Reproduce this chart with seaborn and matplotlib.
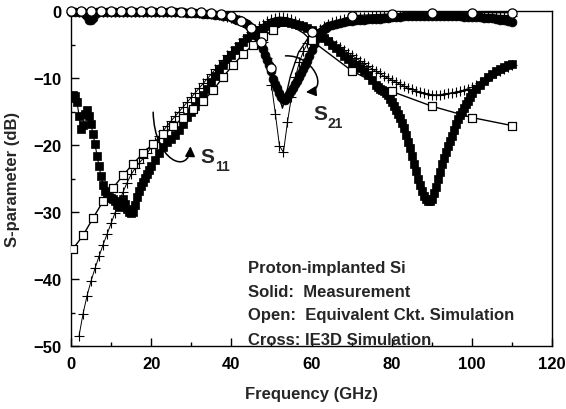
import matplotlib
matplotlib.use("Agg")
import matplotlib.pyplot as plt
from matplotlib.ticker import MultipleLocator
from matplotlib.patches import FancyArrowPatch
from matplotlib.path import Path
import seaborn as sns
import pandas as pd

# ---------------- data ----------------
# Measured S11 (solid squares)
S11_MEAS_F = [
    0, 0.5, 1, 1.5, 2, 2.5, 3, 3.5, 4, 4.5,
    5, 5.5, 6, 6.5, 7, 7.5, 8, 8.5, 9, 9.5,
    10, 10.5, 11, 11.5, 12, 12.5, 13, 13.5, 14, 14.5,
    15, 15.5, 16, 16.5, 17, 17.5, 18, 18.5, 19, 19.5,
    20, 21, 22, 23, 24, 25, 26, 27, 28, 29,
    30, 31, 32, 33, 34, 35, 36, 37, 38, 39,
    40, 41, 42, 43, 44, 45, 46, 47, 48, 49,
    50, 51, 52, 53, 54, 55, 56, 57, 58, 59,
    60, 61, 62, 63, 64, 65, 66, 67, 68, 69,
    70, 71, 72, 73, 74, 75, 76, 76.5, 77, 77.5,
    78, 78.5, 79, 79.5, 80, 80.5, 81, 81.5, 82, 82.5,
    83, 83.5, 84, 84.5, 85, 85.5, 86, 86.5, 87, 87.5,
    88, 88.5, 89, 89.5, 90, 90.5, 91, 91.5, 92, 92.5,
    93, 93.5, 94, 94.5, 95, 95.5, 96, 96.5, 97, 97.5,
    98, 98.5, 99, 99.5, 100, 101, 102, 103, 104, 105,
    106, 107, 108, 109, 110]
S11_MEAS_DB = [
    -13.0, -12.6, -12.7, -13.6, -15.6, -17.6, -17.0, -15.4, -14.8, -15.6,
    -16.9, -18.4, -19.9, -21.6, -23.2, -24.7, -25.9, -26.8, -27.3, -27.7,
    -27.9, -28.1, -28.4, -28.9, -29.3, -28.9, -28.0, -28.8, -29.6, -30.0,
    -30.2, -30.0, -29.0, -27.7, -26.8, -26.1, -25.5, -24.9, -24.3, -23.7,
    -23.1, -22.3, -21.2, -20.3, -19.6, -19.1, -18.5, -17.7, -16.8, -15.8,
    -15.0, -14.2, -13.4, -12.6, -11.6, -10.6, -9.7, -8.8, -8.0, -7.2,
    -6.5, -5.8, -5.2, -4.6, -4.1, -3.6, -3.2, -2.8, -2.5, -2.2,
    -2.0, -1.8, -1.7, -1.7, -1.7, -1.8, -1.9, -2.1, -2.3, -2.6,
    -2.9, -3.3, -3.7, -4.1, -4.5, -5.0, -5.5, -6.1, -6.7, -7.2,
    -7.7, -8.1, -8.5, -9.0, -9.6, -10.3, -11.0, -11.3, -11.6, -11.8,
    -12.0, -12.3, -12.6, -13.1, -13.6, -14.2, -14.8, -15.3, -15.9, -16.7,
    -17.5, -18.5, -19.5, -20.5, -21.6, -22.8, -23.9, -25.0, -26.0, -26.9,
    -27.6, -28.1, -28.4, -28.4, -28.0, -27.2, -26.2, -25.1, -24.0, -22.9,
    -21.9, -21.0, -20.2, -19.4, -18.6, -17.7, -16.8, -16.1, -15.5, -15.0,
    -14.5, -13.9, -13.4, -12.8, -12.3, -11.6, -11.0, -10.4, -9.9, -9.4,
    -9.0, -8.7, -8.4, -8.1, -7.9]

# Measured S21 (solid circles)
S21_MEAS_F = [
    0, 1, 2, 3, 3.5, 4, 4.5, 5, 5.5, 6,
    6.5, 7, 8, 9, 10, 11, 12, 13, 14, 15,
    16, 17, 18, 19, 20, 21, 22, 23, 24, 25,
    26, 27, 28, 29, 30, 31, 32, 33, 34, 35,
    36, 37, 38, 39, 40, 40.5, 41, 41.5, 42, 42.5,
    43, 43.5, 44, 44.5, 45, 45.5, 46, 46.5, 47, 47.5,
    48, 48.5, 49, 49.5, 50, 50.5, 51, 51.5, 52, 52.5,
    53, 53.5, 54, 54.5, 55, 55.5, 56, 56.5, 57, 57.5,
    58, 58.5, 59, 59.5, 60, 60.5, 61, 61.5, 62, 62.5,
    63, 63.5, 64, 65, 66, 67, 68, 69, 70, 71,
    72, 73, 74, 75, 76, 77, 78, 79, 80, 81,
    82, 83, 84, 85, 86, 87, 88, 89, 90, 91,
    92, 93, 94, 95, 96, 97, 98, 99, 100, 101,
    102, 103, 104, 105, 106, 107, 108, 109, 110]
S21_MEAS_DB = [
    -0.1, -0.1, -0.1, -0.2, -0.4, -0.8, -1.3, -1.4, -1.0, -0.4,
    -0.2, -0.1, -0.1, -0.1, -0.1, -0.1, -0.1, -0.1, -0.1, -0.1,
    -0.1, -0.1, -0.1, -0.1, -0.1, -0.1, -0.1, -0.1, -0.15, -0.15,
    -0.2, -0.2, -0.2, -0.25, -0.3, -0.3, -0.35, -0.4, -0.45, -0.5,
    -0.55, -0.6, -0.7, -0.8, -0.95, -1.05, -1.15, -1.3, -1.4, -1.55,
    -1.7, -1.85, -2.0, -2.3, -2.6, -2.9, -3.3, -3.8, -4.4, -5.0,
    -5.7, -6.5, -7.3, -8.0, -8.9, -10.1, -10.9, -11.5, -12.2, -12.8,
    -13.2, -13.3, -12.9, -12.4, -12.0, -11.5, -10.9, -10.4, -9.8, -9.2,
    -8.6, -8.1, -7.5, -6.7, -5.8, -4.9, -4.2, -3.7, -3.3, -3.0,
    -2.7, -2.5, -2.3, -2.1, -1.9, -1.75, -1.6, -1.5, -1.45, -1.4,
    -1.35, -1.3, -1.25, -1.2, -1.2, -1.15, -1.1, -1.0, -0.95, -0.9,
    -0.85, -0.8, -0.8, -0.75, -0.75, -0.7, -0.7, -0.7, -0.7, -0.7,
    -0.7, -0.72, -0.75, -0.75, -0.8, -0.8, -0.85, -0.85, -0.9, -0.9,
    -0.95, -1.0, -1.05, -1.1, -1.2, -1.3, -1.4, -1.55, -1.7]

# IE3D simulation (crosses), 1 GHz steps
IE3D_F = [
    2, 3, 4, 5, 6, 7, 8, 9, 10,
    11, 12, 13, 14, 15, 16, 17, 18, 19, 20,
    21, 22, 23, 24, 25, 26, 27, 28, 29, 30,
    31, 32, 33, 34, 35, 36, 37, 38, 39, 40,
    41, 42, 43, 44, 45, 46, 47, 48, 49, 50,
    51, 52, 53, 54, 55, 56, 57, 58, 59, 60,
    61, 62, 63, 64, 65, 66, 67, 68, 69, 70,
    71, 72, 73, 74, 75, 76, 77, 78, 79, 80,
    81, 82, 83, 84, 85, 86, 87, 88, 89, 90,
    91, 92, 93, 94, 95, 96, 97, 98, 99, 100,
    101, 102, 103, 104, 105, 106, 107, 108, 109, 110]
IE3D_S11_DB = [
    -48.5, -45.2, -42.5, -40.3, -38.4, -36.6, -34.9, -33.3, -31.7,
    -30.1, -28.5, -27.0, -25.6, -24.4, -23.5, -22.7, -22.0, -21.2, -20.4,
    -19.6, -18.7, -17.9, -17.1, -16.4, -15.7, -15.0, -14.3, -13.6, -12.9,
    -12.2, -11.5, -10.8, -10.1, -9.4, -8.7, -8.0, -7.3, -6.6, -6.0,
    -5.4, -4.8, -4.2, -3.7, -3.2, -2.7, -2.3, -1.9, -1.5, -1.2,
    -1.0, -0.9, -0.95, -1.05, -1.25, -1.5, -1.8, -2.2, -2.6, -3.0,
    -3.3, -3.6, -4.0, -4.3, -4.7, -5.0, -5.4, -5.8, -6.2, -6.6,
    -7.0, -7.4, -7.8, -8.2, -8.6, -9.0, -9.3, -9.7, -10.0, -10.3,
    -10.6, -10.9, -11.2, -11.5, -11.7, -11.9, -12.1, -12.3, -12.4, -12.5,
    -12.5, -12.5, -12.4, -12.3, -12.2, -12.1, -12.0, -11.8, -11.6, -11.4,
    -11.1, -10.8, -10.4, -10.0, -9.6, -9.2, -8.9, -8.6, -8.3, -8.1]
IE3D_S21_DB = [
    -0.1, -0.1, -0.1, -0.1, -0.1, -0.1, -0.1, -0.1, -0.1,
    -0.1, -0.1, -0.1, -0.1, -0.1, -0.1, -0.1, -0.1, -0.1, -0.1,
    -0.1, -0.1, -0.1, -0.1, -0.1, -0.15, -0.15, -0.15, -0.15, -0.15,
    -0.2, -0.25, -0.3, -0.35, -0.4, -0.5, -0.6, -0.7, -0.85, -1.0,
    -1.2, -1.4, -1.7, -2.1, -2.6, -3.0, -3.6, -4.6, -7.0, -11.0,
    -15.4, -20.1, -21.1, -16.6, -12.8, -9.8, -7.6, -6.0, -4.8, -3.9,
    -3.2, -2.7, -2.3, -2.0, -1.7, -1.5, -1.3, -1.2, -1.1, -1.0,
    -0.95, -0.9, -0.85, -0.85, -0.8, -0.8, -0.75, -0.75, -0.7, -0.7,
    -0.7, -0.7, -0.65, -0.65, -0.65, -0.6, -0.6, -0.6, -0.6, -0.6,
    -0.6, -0.6, -0.6, -0.6, -0.6, -0.6, -0.6, -0.6, -0.6, -0.6,
    -0.6, -0.6, -0.6, -0.6, -0.6, -0.6, -0.65, -0.65, -0.7, -0.7]

# Equivalent circuit simulation, S11 (open squares)
CKT_S11_F = [0.5, 3, 5.5, 8, 10.5, 13, 15.5, 18, 20.5, 23,
             25.5, 28, 30.5, 33, 35.5, 38, 40.5, 43, 45.5, 48,
             50.5, 60, 70, 80, 90, 100, 110]
CKT_S11_DB = [-35.5, -33.5, -30.9, -28.4, -26.4, -24.5, -22.8, -21.2, -19.8, -18.4,
              -17.2, -15.9, -14.6, -13.4, -11.8, -9.8, -8.0, -6.4, -5.0, -3.8,
              -2.8, -4.4, -8.9, -12.0, -14.2, -15.9, -17.1]
CKT_S11_LINE_F = [53, 55.5, 58]          # curve points without symbols
CKT_S11_LINE_DB = [-2.1, -2.4, -3.3]

# Equivalent circuit simulation, S21 (open circles)
CKT_S21_F = [0, 2.5, 5, 7.5, 10, 12.5, 15, 17.5, 20, 22.5,
             25, 27.5, 30, 32.5, 35, 37.5, 40, 42.5, 45, 47.5,
             50, 60, 70, 80, 90, 100, 110]
CKT_S21_DB = [0.0, 0.0, 0.0, 0.0, 0.0, 0.0, 0.0, 0.0, 0.0, 0.0,
              -0.05, -0.1, -0.15, -0.2, -0.3, -0.5, -0.8, -1.5, -2.6, -4.7,
              -8.5, -3.2, -0.7, -0.45, -0.35, -0.25, -0.25]
CKT_S21_LINE_F = [51, 52, 52.75, 53.5, 54.75, 56.75, 58.75]
CKT_S21_LINE_DB = [-10.6, -12.9, -14.5, -12.9, -9.7, -6.2, -4.4]

TEXT_LINES = ["Proton-implanted Si",
              "Solid:  Measurement",
              "Open:  Equivalent Ckt. Simulation",
              "Cross: IE3D Simulation"]

# ---------------- style ----------------
sns.set_theme(style="ticks")
plt.rcParams["font.family"] = ["Liberation Sans", "DejaVu Sans"]
plt.rcParams.update({
    "font.weight": "bold",
    "axes.labelweight": "bold",
    "xtick.direction": "in",
    "ytick.direction": "in",
    "axes.edgecolor": "black",
    "axes.linewidth": 1.0,
    "xtick.color": "black",
    "ytick.color": "black",
})

fig = plt.figure(figsize=(5.66, 4.10), dpi=100)
ax = fig.add_axes([71 / 566, 63 / 410, 481 / 566, 335 / 410])
ax.set_facecolor("white")

K = "black"

# IE3D crosses
for ydb in (IE3D_S11_DB, IE3D_S21_DB):
    sns.lineplot(x=IE3D_F, y=ydb, ax=ax, color=K, linewidth=0.7,
                 marker="+", markersize=6.5, markeredgewidth=0.8,
                 markeredgecolor=K, sort=False, estimator=None,
                 legend=False, zorder=2)

# Measured S11 - solid squares
sns.lineplot(x=S11_MEAS_F, y=S11_MEAS_DB, ax=ax, color=K, linewidth=0.8,
             marker="s", markersize=6.0, markerfacecolor=K,
             markeredgecolor=K, markeredgewidth=0.5, sort=False,
             estimator=None, legend=False, zorder=3)

# Measured S21 - solid circles
sns.lineplot(x=S21_MEAS_F, y=S21_MEAS_DB, ax=ax, color=K, linewidth=0.8,
             marker="o", markersize=6.4, markerfacecolor=K,
             markeredgecolor=K, markeredgewidth=0.5, sort=False,
             estimator=None, legend=False, zorder=3, clip_on=False)

# Equivalent circuit: line through all curve points, symbols on marked ones
ckt11 = pd.DataFrame({"f": CKT_S11_F + CKT_S11_LINE_F,
                      "db": CKT_S11_DB + CKT_S11_LINE_DB}).sort_values("f")
ckt21 = pd.DataFrame({"f": CKT_S21_F + CKT_S21_LINE_F,
                      "db": CKT_S21_DB + CKT_S21_LINE_DB}).sort_values("f")
for df in (ckt11, ckt21):
    sns.lineplot(data=df, x="f", y="db", ax=ax, color=K, linewidth=1.0,
                 sort=False, estimator=None, legend=False, zorder=4,
                 clip_on=False)

sns.scatterplot(x=CKT_S11_F, y=CKT_S11_DB, ax=ax, marker="s", s=34,
                facecolor="white", edgecolor=K, linewidth=0.9,
                legend=False, zorder=5)
sns.scatterplot(x=CKT_S21_F, y=CKT_S21_DB, ax=ax, marker="o", s=44,
                facecolor="white", edgecolor=K, linewidth=0.9,
                legend=False, zorder=6, clip_on=False)

# ---------------- axes ----------------
ax.set_xlim(0, 120)
ax.set_ylim(-50, 0)
ax.xaxis.set_major_locator(MultipleLocator(20))
ax.xaxis.set_minor_locator(MultipleLocator(10))
ax.yaxis.set_major_locator(MultipleLocator(10))
ax.yaxis.set_minor_locator(MultipleLocator(5))
ax.tick_params(which="major", length=6, width=1.0, labelsize=12, pad=7)
ax.tick_params(which="minor", length=3, width=1.0)
for lab in ax.get_xticklabels() + ax.get_yticklabels():
    lab.set_fontweight("bold")
for sp in ax.spines.values():
    sp.set_visible(True)
    sp.set_color("black")
    sp.set_linewidth(1.0)

ax.set_xlabel("Frequency (GHz)", fontsize=12, fontweight="bold")
ax.set_ylabel("S-parameter (dB)", fontsize=12, fontweight="bold")
ax.xaxis.set_label_coords(0.5, -0.118)
ax.yaxis.set_label_coords(-0.105, 0.5)

# ---------------- annotations ----------------
ax.text(32.25, -22.54, "S", fontsize=15, fontweight="bold", va="baseline")
ax.text(36.0, -23.73, "11", fontsize=10, fontweight="bold", va="baseline")
ax.text(60.5, -16.12, "S", fontsize=15, fontweight="bold", va="baseline")
ax.text(64.0, -17.31, "21", fontsize=10, fontweight="bold", va="baseline")

arrow_paths = [
    [(20.5, -15.1), (20.8, -22.5), (29.5, -24.5), (29.8, -20.2)],
    [(53.5, -6.7), (60.5, -6.5), (64.5, -11.8), (58.6, -12.1)],
]
for pts in arrow_paths:
    p = Path(pts, [Path.MOVETO, Path.CURVE4, Path.CURVE4, Path.CURVE4])
    arr = FancyArrowPatch(path=p, arrowstyle="-|>,head_length=0.5,head_width=0.25",
                          mutation_scale=12, color=K, linewidth=1.1,
                          transform=ax.transData, zorder=7)
    ax.add_patch(arr)

text_y = [-38.96, -42.54, -46.0, -49.7]
for t, y in zip(TEXT_LINES, text_y):
    ax.text(44.25, y, t, fontsize=12, fontweight="bold", va="baseline",
            ha="left", zorder=8)

fig.savefig("out.png", dpi=100)
